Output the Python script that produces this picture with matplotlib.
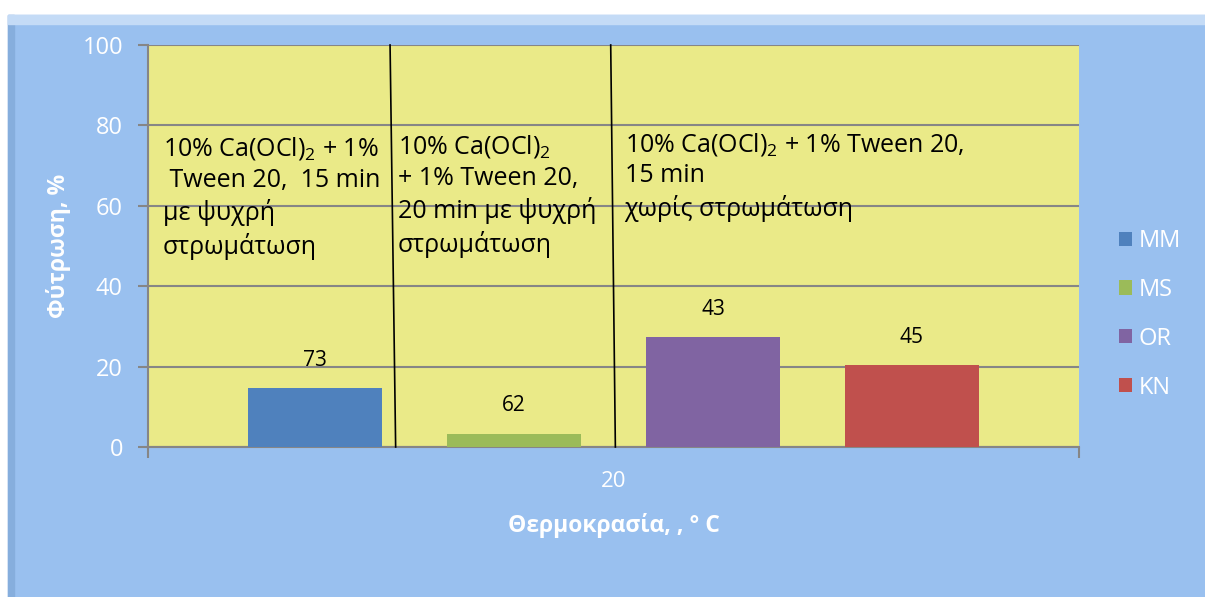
import matplotlib.pyplot as plt
from matplotlib.patches import Rectangle

series = ["MM", "MS", "OR", "KN"]
values = [14.7, 3.3, 27.3, 20.3]
labels = ["73", "62", "43", "45"]
colors = ["#4F81BD", "#9BBB59", "#8064A2", "#C0504D"]
category = "20"

notes = [
    "10% Ca(OCl)$_2$ + 1%\n Tween 20,  15 min\nμε ψυχρή\nστρωμάτωση",
    "10% Ca(OCl)$_2$\n+ 1% Tween 20,\n20 min με ψυχρή\nστρωμάτωση",
    "10% Ca(OCl)$_2$ + 1% Tween 20,\n15 min\nχωρίς στρωμάτωση",
]

plt.rcParams["font.family"] = ["Open Sans", "DejaVu Sans"]
plt.rcParams["mathtext.fontset"] = "custom"
plt.rcParams["mathtext.rm"] = "Open Sans"
plt.rcParams["mathtext.default"] = "rm"

blue_bg = "#99C0EF"
yellow = "#EAEA88"
grid_c = "#868686"

fig = plt.figure(figsize=(12.05, 5.97), dpi=100)
fig.patch.set_facecolor("white")
fig.patches.append(Rectangle((8 / 1205, 0), 1, (597 - 15) / 597,
                             transform=fig.transFigure, color=blue_bg, zorder=-10))
fig.patches.append(Rectangle((8 / 1205, 0), 6 / 1205, (597 - 15) / 597,
                             transform=fig.transFigure, color="#86AEDD", zorder=-9))
fig.patches.append(Rectangle((8 / 1205, (597 - 24) / 597), 1, 9 / 597,
                             transform=fig.transFigure, color="#C4DBF6", zorder=-8))

ax = fig.add_axes([148 / 1205, 1 - 447 / 597, 931 / 1205, 402 / 597])
ax.set_facecolor(yellow)

step = 0.2137
width = 0.144
for i, (s, v, lab, c) in enumerate(zip(series, values, labels, colors)):
    x = (i - 1.5) * step
    ax.bar(x, v, width=width, color=c, label=s, zorder=3)
    ax.text(x, v + 4.3, lab, ha="center", va="bottom", fontsize=15, color="black",
            zorder=4)

ax.set_xlim(-0.5, 0.5)
ax.set_ylim(0, 100)
ax.set_yticks(range(0, 101, 20))
ax.yaxis.grid(True, color=grid_c, linewidth=1.5, zorder=1)
ax.set_axisbelow(True)

ax.set_xticks([-0.5, 0.5])
ax.set_xticklabels(["", ""])
ax.tick_params(axis="x", direction="out", length=8, color=grid_c, width=1.5)
ax.tick_params(axis="y", direction="out", length=7, color=grid_c, width=1.5,
               labelcolor="white", labelsize=17, pad=11)
ax.text(0, -0.085, category, transform=ax.get_xaxis_transform(), ha="center",
        va="center", fontsize=16, color="white")

for side in ["top", "right"]:
    ax.spines[side].set_visible(False)
for side in ["left", "bottom"]:
    ax.spines[side].set_color(grid_c)
    ax.spines[side].set_linewidth(1.5)

ax.set_ylabel("Φύτρωση, %", color="white", fontsize=16.5, fontweight="bold")
ax.yaxis.set_label_coords(-0.083, 0.5)
ax.set_xlabel("Θερμοκρασία, , ° C", color="white", fontsize=16.5, fontweight="bold")
ax.xaxis.set_label_coords(0.5, -0.165)

# dividers drawn on the chart
ax.plot([0.260, 0.266], [1, 0], transform=ax.transAxes, color="black", lw=1.2,
        zorder=5, clip_on=False)
ax.plot([0.497, 0.502], [1, 0], transform=ax.transAxes, color="black", lw=1.2,
        zorder=5, clip_on=False)

note_pos = [(0.016, 0.775), (0.268, 0.78), (0.512, 0.787)]
for (nx, ny), t in zip(note_pos, notes):
    ax.text(nx, ny, t, transform=ax.transAxes, ha="left", va="top", fontsize=18,
            linespacing=1.3, zorder=6)

leg = ax.legend(loc="center left", bbox_to_anchor=(1.02, 0.33), frameon=False,
                fontsize=17, labelcolor="white", handlelength=0.55, handleheight=0.55,
                handletextpad=0.3, labelspacing=1.05)

fig.savefig("out.png", dpi=100, facecolor=fig.get_facecolor())
